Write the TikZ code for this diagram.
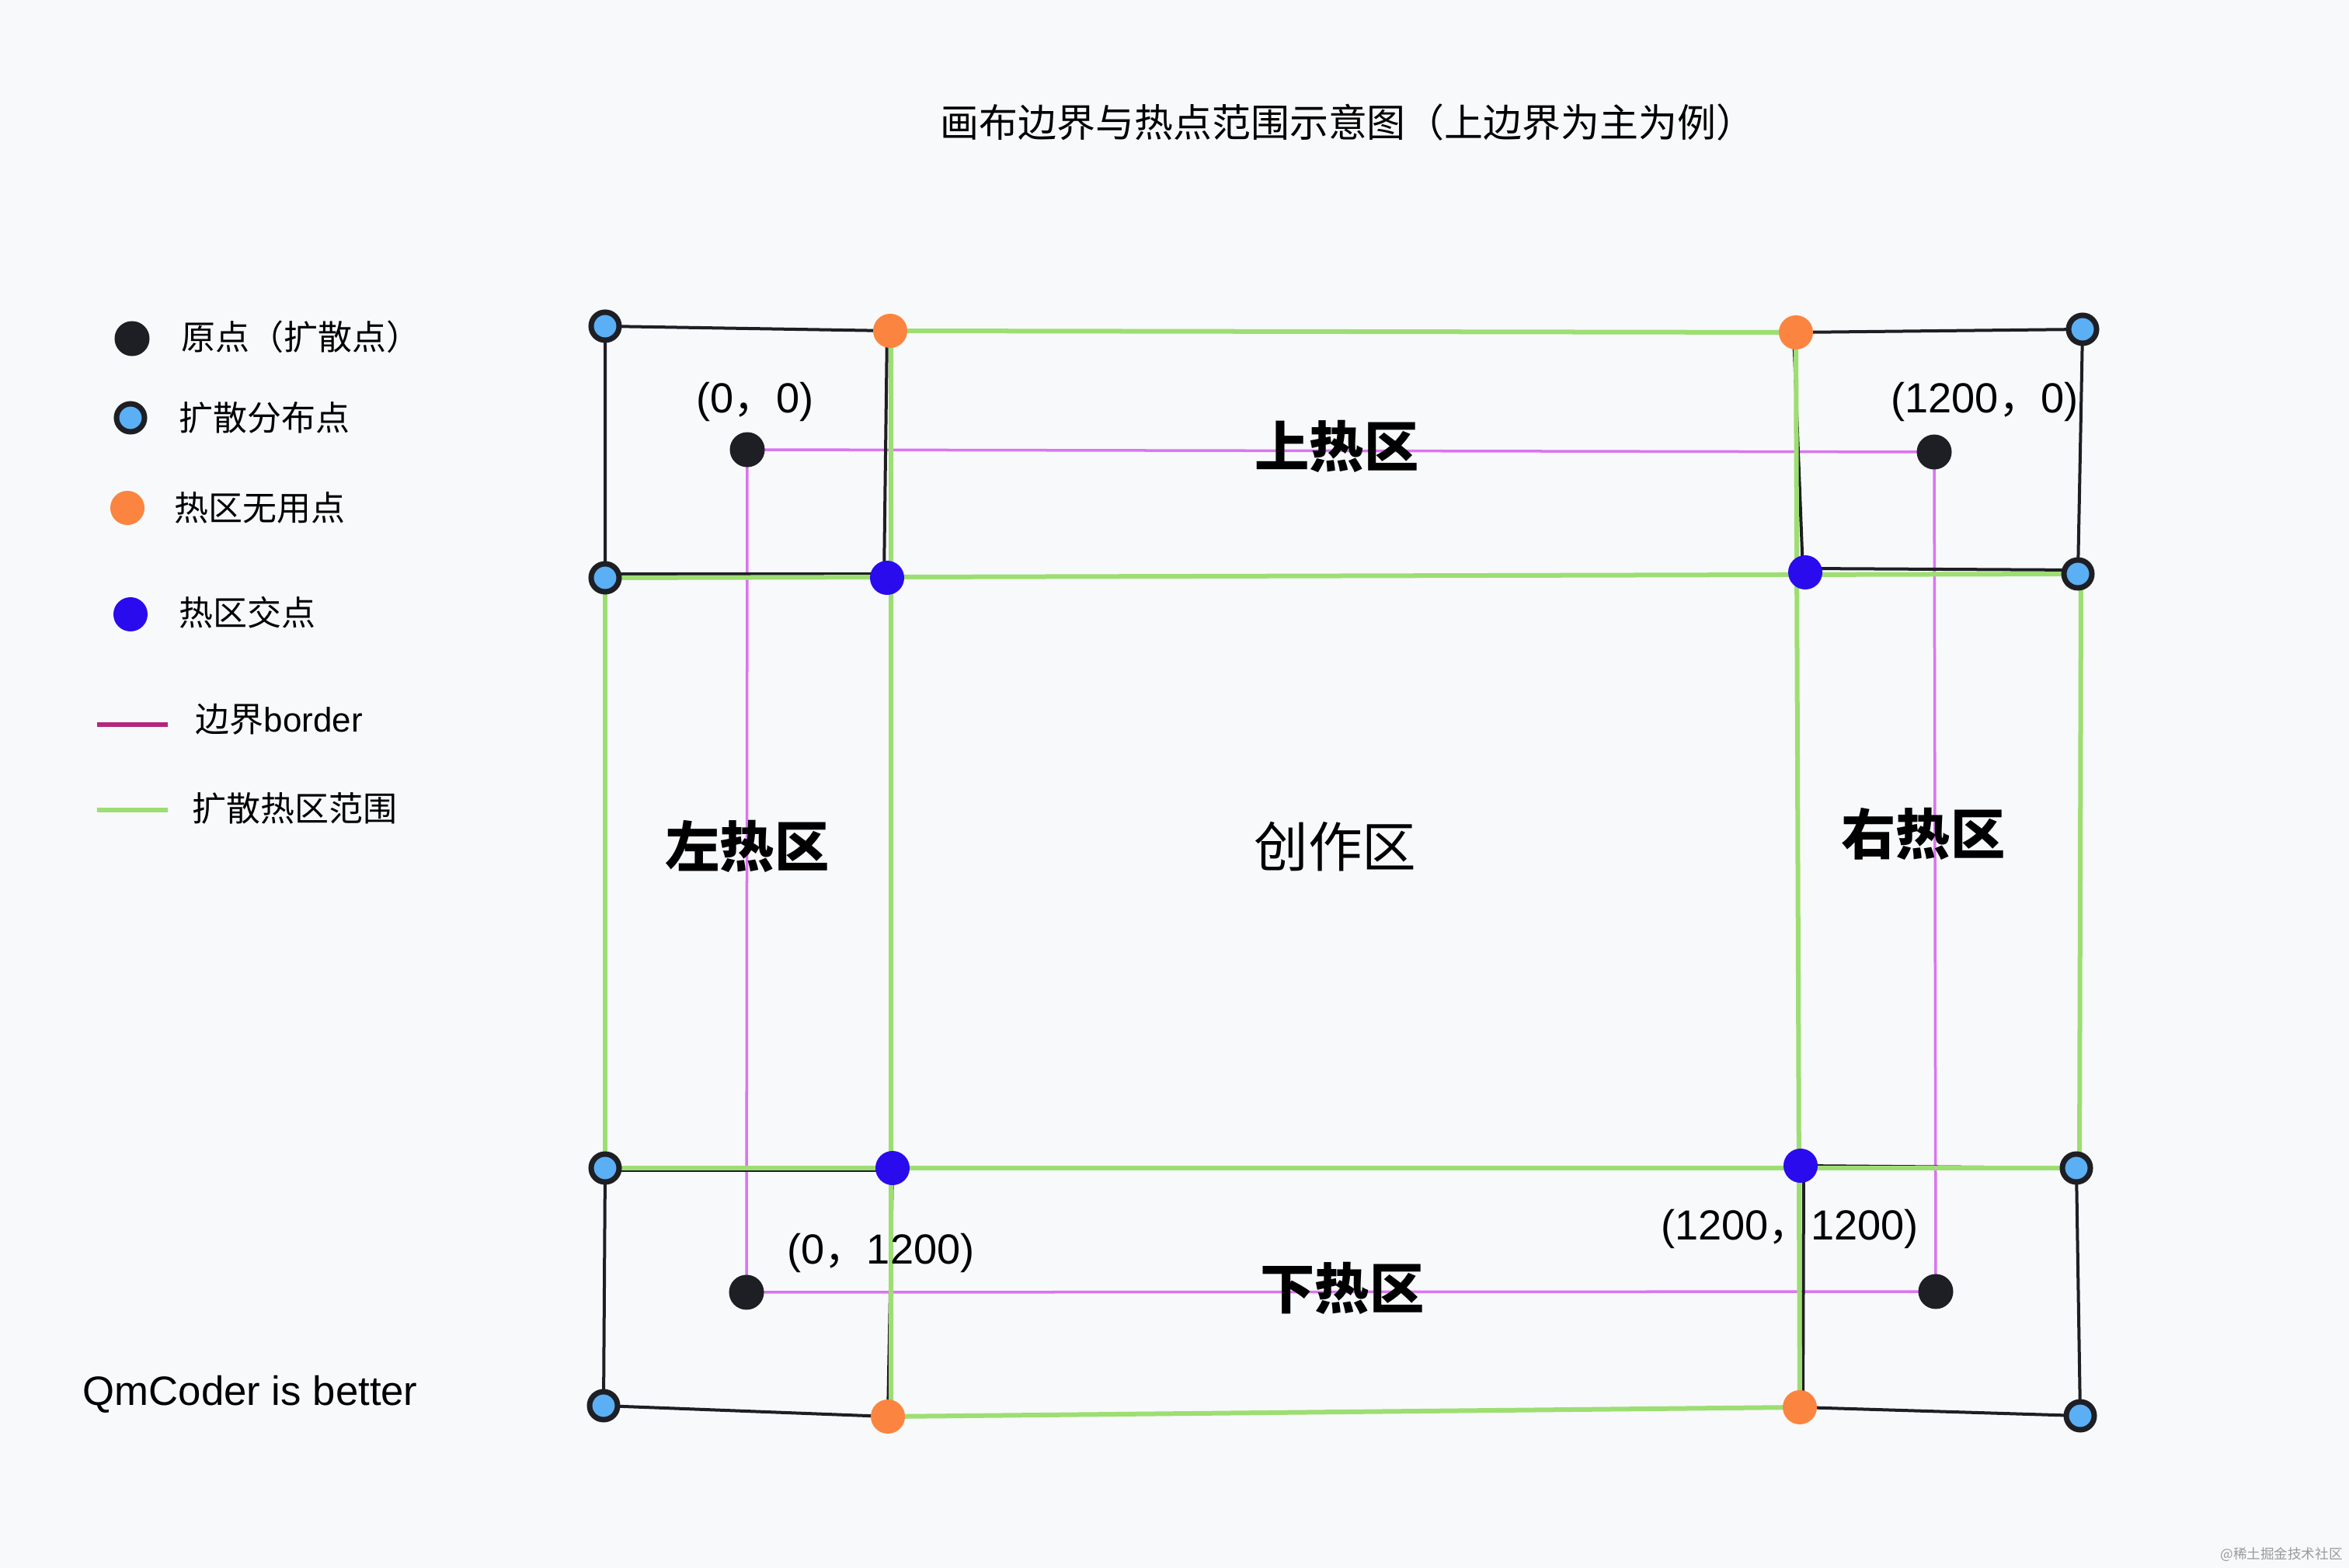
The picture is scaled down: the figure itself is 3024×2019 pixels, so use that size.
\documentclass[tikz,border=0pt]{standalone}
\usepackage{fontspec}
\setmainfont{Noto Sans CJK SC}
\newfontfamily\lat{Liberation Sans}
\definecolor{bgc}{HTML}{F8F9FB}
\definecolor{dark}{HTML}{1E1F24}
\definecolor{skyb}{HTML}{5AAFF5}
\definecolor{orng}{HTML}{FB8540}
\definecolor{interb}{HTML}{2A0BEE}
\definecolor{violet}{HTML}{DA75F0}
\definecolor{grn}{HTML}{9DDE72}
\definecolor{legpur}{HTML}{B3267D}
\definecolor{wm}{HTML}{9A9A9A}
\pgfdeclarelayer{base}
\pgfdeclarelayer{lines}
\pgfsetlayers{base,lines,main}
\tikzset{
  diffpt/.style={circle,draw=dark,fill=skyb,line width=0.07cm,minimum size=0.36cm,inner sep=0pt},
  origpt/.style={circle,fill=dark,minimum size=0.45cm,inner sep=0pt},
  uselesspt/.style={circle,fill=orng,minimum size=0.44cm,inner sep=0pt},
  interpt/.style={circle,fill=interb,minimum size=0.44cm,inner sep=0pt},
  blk/.style={draw=dark,line width=0.04cm},
  grnline/.style={draw=grn,line width=0.06cm},
  vio/.style={draw=violet,line width=0.035cm},
  lbl/.style={anchor=west,inner sep=0pt,font=\fontsize{12.5pt}{15pt}\selectfont},
  coordlbl/.style={inner sep=0pt,font=\fontsize{15.4pt}{18pt}\selectfont},
  zone/.style={inner sep=0pt,font=\fontsize{20pt}{24pt}\selectfont\bfseries},
}
\begin{document}
\begin{tikzpicture}[x=0.01cm,y=-0.01cm]
\begin{pgfonlayer}{base}
\fill[bgc] (0,0) rectangle (3024,2019);
\end{pgfonlayer}
\useasboundingbox (0,0) rectangle (3024,2019);

% title
\node[inner sep=0pt,font=\fontsize{14.2pt}{17pt}\selectfont] (title) at (1735,158) {画布边界与热点范围示意图（上边界为主为例）};

% diffusion points
\node[diffpt] (d1) at (779,420) {};
\node[diffpt] (d2) at (2681,424) {};
\node[diffpt] (d3) at (779,744) {};
\node[diffpt] (d4) at (2675,739) {};
\node[diffpt] (d5) at (779,1504) {};
\node[diffpt] (d6) at (2673,1504) {};
\node[diffpt] (d7) at (777,1810) {};
\node[diffpt] (d8) at (2678,1823) {};
% useless points
\node[uselesspt] (o1) at (1146,426) {};
\node[uselesspt] (o2) at (2312,428) {};
\node[uselesspt] (o3) at (1143,1824) {};
\node[uselesspt] (o4) at (2317,1812) {};
% intersection points
\node[interpt] (i1) at (1142,744) {};
\node[interpt] (i2) at (2324,737) {};
\node[interpt] (i3) at (1149,1504) {};
\node[interpt] (i4) at (2318,1501) {};
% origins
\node[origpt] (p1) at (962,579) {};
\node[origpt] (p2) at (2490,582) {};
\node[origpt] (p3) at (961,1664) {};
\node[origpt] (p4) at (2492,1663) {};

\begin{pgfonlayer}{lines}
% border (violet)
\draw[vio] (p1.center) -- (p2.center) -- (p4.center) -- (p3.center) -- cycle;
% black corner boxes
\draw[blk] (o1.center) -- (d1.center) -- (d3.center);
\draw[blk] ([yshift=0.05cm]d3.center) -- ([yshift=0.05cm]i1.center);
\draw[blk] ([xshift=-0.04cm]o1.center) -- ([xshift=-0.04cm]i1.center);
\draw[blk] (o2.center) -- (d2.center) -- (d4.center);
\draw[blk] ([yshift=0.05cm]i2.center) -- ([yshift=0.05cm]d4.center);
\draw[blk] ([xshift=-0.03cm]o2.center) -- ([xshift=-0.03cm]i2.center);
\draw[blk] (d5.center) -- (d7.center) -- (o3.center);
\draw[blk] ([yshift=-0.03cm]d5.center) -- ([yshift=-0.03cm]i3.center);
\draw[blk] (i3.center) -- (o3.center);
\draw[blk] (d6.center) -- (d8.center) -- (o4.center);
\draw[blk] ([xshift=0.04cm]i4.center) -- ([xshift=0.04cm]o4.center);
\draw[blk] (i4.center) -- (d6.center);
% green hot-zone range
\draw[grnline] (o1.center) -- (o2.center);
\draw[grnline] ([xshift=0.01cm]o1.center) -- ([xshift=0.04cm]o3.center);
\draw[grnline] (o2.center) -- (o4.center);
\draw[grnline] (o3.center) -- (o4.center);
\draw[grnline] (d3.center) -- (d4.center);
\draw[grnline] (d5.center) -- (d6.center);
\draw[grnline] (d3.center) -- (d5.center);
\draw[grnline] ([xshift=0.04cm]d4.center) -- ([xshift=0.04cm]d6.center);
\end{pgfonlayer}

% coordinate labels
\node[coordlbl] (c1) at (972,517) {{\lat (0}，{\lat 0)}};
\node[coordlbl] (c2) at (2555,517) {{\lat (1200}，{\lat 0)}};
\node[coordlbl] (c3) at (1134,1613) {{\lat (0}，{\lat 1200)}};
\node[coordlbl] (c4) at (2304,1582) {{\lat (1200}，{\lat 1200)}};

% zone labels
\node[zone] (ztop) at (1721,575) {上热区};
\node[zone] (zbot) at (1728,1659) {下热区};
\node[zone] (zleft) at (962,1090) {左热区};
\node[zone] (zright) at (2476,1074) {右热区};
\node[inner sep=0pt,font=\fontsize{19.8pt}{24pt}\selectfont] (zmid) at (1719,1090) {创作区};

% legend
\node[origpt] (l1) at (170,436) {};
\node[lbl] (t1) at (233,434) {原点（扩散点）};
\node[diffpt] (l2) at (168,538) {};
\node[lbl] (t2) at (230,538) {扩散分布点};
\node[uselesspt] (l3) at (164,654) {};
\node[lbl] (t3) at (224,654) {热区无用点};
\node[interpt] (l4) at (168,791) {};
\node[lbl] (t4) at (230,789) {热区交点};
\coordinate (lp1) at (125,933);
\coordinate (lp2) at (216,933);
\draw[draw=legpur,line width=0.065cm] (lp1) -- (lp2);
\node[lbl] (t5) at (251,926) {边界{\lat border}};
\coordinate (lg1) at (125,1043);
\coordinate (lg2) at (216,1043);
\draw[draw=grn,line width=0.065cm] (lg1) -- (lg2);
\node[lbl] (t6) at (247,1041) {扩散热区范围};

\node[anchor=west,inner sep=0pt,font=\fontsize{15pt}{18pt}\selectfont\lat] (sig) at (106,1795) {QmCoder is better};
\node[inner sep=0pt,text=wm,font=\fontsize{5pt}{6pt}\selectfont] (wmark) at (2937,2002) {@稀土掘金技术社区};
\end{tikzpicture}
\end{document}
